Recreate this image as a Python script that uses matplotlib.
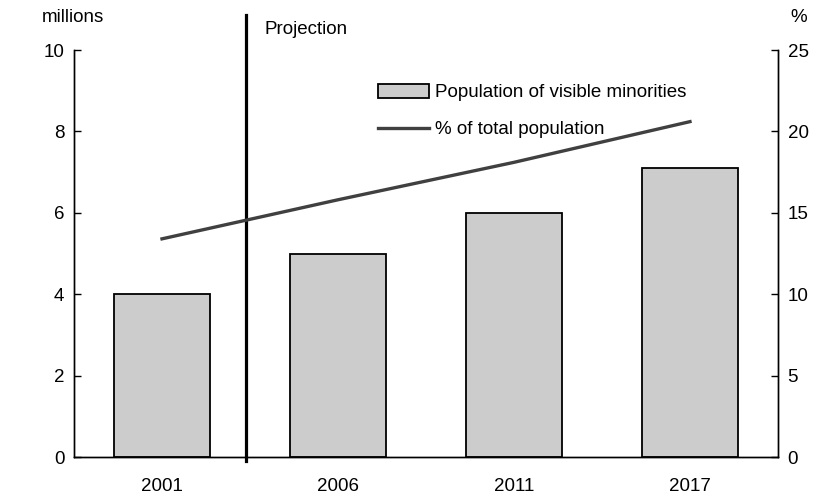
import matplotlib
matplotlib.use("Agg")
import matplotlib.pyplot as plt
from matplotlib.patches import Patch
from matplotlib.lines import Line2D

# ========== Data ==========
years = ["2001", "2006", "2011", "2017"]
pop_millions = [4.0, 5.0, 6.0, 7.1]
pct_total = [13.4, 15.8, 18.1, 20.6]
left_ticks = [0, 2, 4, 6, 8, 10]
right_ticks = [0, 5, 10, 15, 20, 25]

plt.rcParams['font.family'] = ['Liberation Sans', 'DejaVu Sans']
FS = 13.5

fig = plt.figure(figsize=(8.25, 5), dpi=100)
ax = fig.add_axes([0.0897, 0.086, 0.8533, 0.814])
ax2 = ax.twinx()

x = list(range(len(years)))
ax.bar(x, pop_millions, width=0.55, color='#cccccc', edgecolor='black', linewidth=1.3, zorder=2)
ax.set_xlim(-0.5, 3.5)
ax.set_ylim(0, 10)
ax.set_yticks(left_ticks)
ax.set_xticks(x)
ax.set_xticklabels(years)

ax2.plot(x, pct_total, color='#404040', linewidth=2.4, zorder=3)
ax2.set_ylim(0, 25)
ax2.set_yticks(right_ticks)

for a in (ax, ax2):
    a.spines['top'].set_visible(False)
    a.tick_params(axis='y', direction='in', length=5, width=1, labelsize=FS, pad=7)
    for s in ('left', 'right', 'bottom'):
        a.spines[s].set_linewidth(1)
ax.tick_params(axis='x', length=0, labelsize=FS, pad=15)

# projection marker
ax.plot([0.477, 0.477], [-0.1, 10.86], color='black', linewidth=2.3, clip_on=False, zorder=4)
fig.text(265 / 825, 1 - 30 / 500, "Projection", fontsize=FS, va='center', ha='left')

fig.text(42 / 825, 1 - 18 / 500, "millions", fontsize=FS, va='center', ha='left')
fig.text(790 / 825, 1 - 18 / 500, "%", fontsize=FS, va='center', ha='left')

handles = [Patch(facecolor='#cccccc', edgecolor='black', linewidth=1.3),
           Line2D([0], [0], color='#404040', linewidth=2.4)]
fig.legend(handles, ["Population of visible minorities", "% of total population"],
           loc='upper left', bbox_to_anchor=(378 / 825, 1 - 84 / 500), frameon=False,
           fontsize=FS, handlelength=2.7, handleheight=0.75, handletextpad=0.35,
           labelspacing=1.05, borderpad=0, borderaxespad=0)

fig.savefig("out.png", dpi=100)
